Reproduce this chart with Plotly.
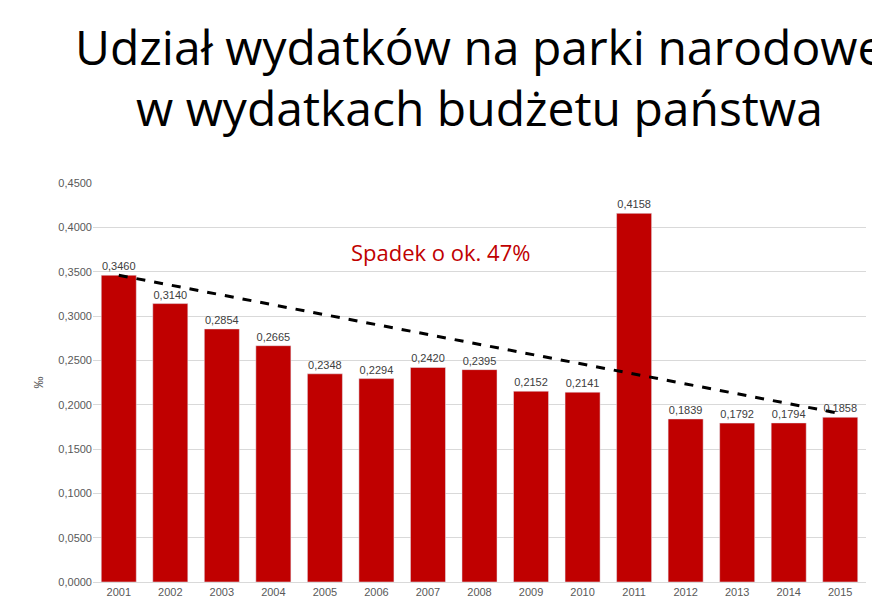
import plotly.graph_objects as go

years = [str(y) for y in range(2001, 2016)]
values = [0.3460, 0.3140, 0.2854, 0.2665, 0.2348, 0.2294, 0.2420, 0.2395, 0.2152, 0.2141, 0.4158, 0.1839, 0.1792, 0.1794, 0.1858]
labels = ["0,3460", "0,3140", "0,2854", "0,2665", "0,2348", "0,2294", "0,2420", "0,2395", "0,2152", "0,2141", "0,4158", "0,1839", "0,1792", "0,1794", "0,1858"]
trend_x = ["2001", "2015"]
trend_y = [0.346, 0.190]
tick_vals = [i * 0.05 for i in range(10)]
tick_text = ["0,0000", "0,0500", "0,1000", "0,1500", "0,2000", "0,2500", "0,3000", "0,3500", "0,4000", "0,4500"]
title_lines = ["Udział wydatków na parki narodowe", "w wydatkach budżetu państwa"]

fig = go.Figure()
fig.add_trace(go.Bar(x=years, y=values, marker_color="#C00000", width=0.68,
                     text=labels, textposition="outside", cliponaxis=False,
                     textfont=dict(size=11, color="#404040")))
fig.add_trace(go.Scatter(x=trend_x, y=trend_y, mode="lines",
                         line=dict(color="black", width=3, dash="dash")))
fig.add_annotation(text="Spadek o ok. 47%", x=0.45, xref="paper", y=0.372, yref="y",
                   showarrow=False, font=dict(size=22, color="#C00000", family="Open Sans"))
for txt, yy in zip(title_lines, [1.343, 1.188]):
    fig.add_annotation(text=txt, x=0.5, xref="paper", xanchor="center",
                       y=yy, yref="paper", yanchor="middle", showarrow=False,
                       font=dict(size=48, color="black", family="Open Sans"))
fig.update_layout(
    width=880, height=607, showlegend=False,
    plot_bgcolor="white", paper_bgcolor="white",
    font=dict(family="Liberation Sans", color="#595959"),
    margin=dict(l=85, r=22, t=175, b=33, autoexpand=False),
    bargap=0.32,
)
fig.update_xaxes(showline=True, linecolor="#D9D9D9", tickfont=dict(size=11), ticks="")
fig.update_yaxes(range=[0, 0.45], tickvals=tick_vals, ticktext=tick_text,
                 gridcolor="#D9D9D9", tickfont=dict(size=11), zeroline=False,
                 title=dict(text="‰", font=dict(size=12), standoff=12))
fig.write_html("out.html")
